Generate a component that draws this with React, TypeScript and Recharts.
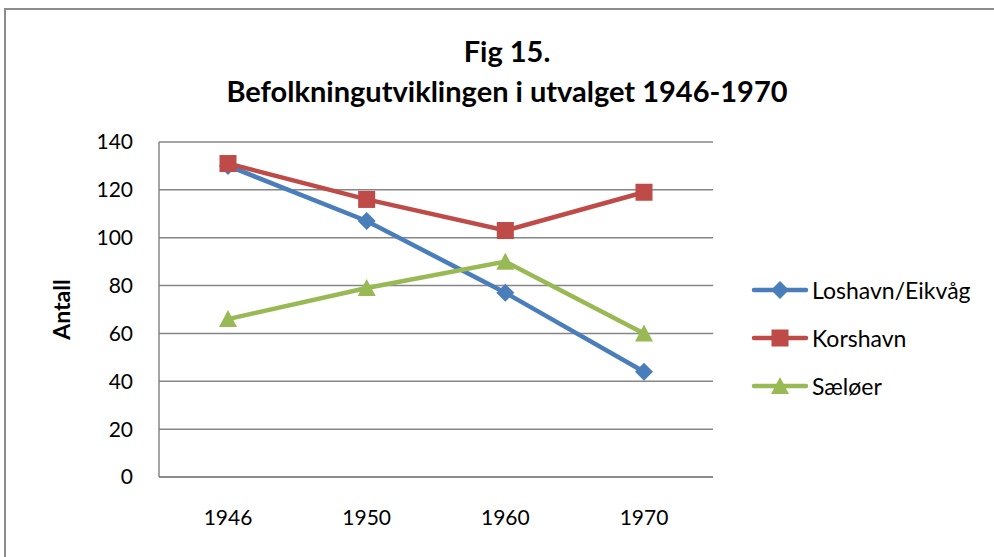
import React from 'react';
import { LineChart, Line, XAxis, YAxis, CartesianGrid } from 'recharts';

const years = ['1946', '1950', '1960', '1970'];
const loshavn = [130, 107, 77, 44];
const korshavn = [131, 116, 103, 119];
const saeloer = [66, 79, 90, 60];
const yTicks = [0, 20, 40, 60, 80, 100, 120, 140];

const seriesInfo = [
  { key: 'loshavn', name: 'Loshavn/Eikvåg', color: '#4A7EBB', shape: 'diamond' },
  { key: 'korshavn', name: 'Korshavn', color: '#BE4B48', shape: 'square' },
  { key: 'saeloer', name: 'Sæløer', color: '#98B954', shape: 'triangle' },
];

const data = years.map((year, i) => ({
  year,
  loshavn: loshavn[i],
  korshavn: korshavn[i],
  saeloer: saeloer[i],
}));

const FONT = 'Lato, "Open Sans", sans-serif';

// marker drawn at each point
const Marker = (shape: string, color: string) => (props: any) => {
  const { cx, cy, index } = props;
  if (cx == null || cy == null) return null;
  if (shape === 'diamond') {
    const s = 9;
    return (
      <path key={index} d={`M${cx},${cy - s} L${cx + s},${cy} L${cx},${cy + s} L${cx - s},${cy} Z`} fill={color} />
    );
  }
  if (shape === 'square') {
    const s = 8.5;
    return <rect key={index} x={cx - s} y={cy - s} width={s * 2} height={s * 2} fill={color} />;
  }
  const s = 9;
  return (
    <path key={index} d={`M${cx},${cy - s} L${cx + s},${cy + s - 1} L${cx - s},${cy + s - 1} Z`} fill={color} />
  );
};

const LegendIcon = ({ shape, color }: { shape: string; color: string }) => (
  <svg width={58} height={22} style={{ display: 'block' }}>
    <line x1={3} y1={11} x2={55} y2={11} stroke={color} strokeWidth={4.5} strokeLinecap="round" />
    {Marker(shape, color)({ cx: 29, cy: 11, index: 0 })}
  </svg>
);

const ChartLegend = () => (
  <div style={{ position: 'absolute', left: 751, top: 266, fontFamily: FONT, fontSize: 23, color: '#000' }}>
    {seriesInfo.map((s) => (
      <div key={s.key} style={{ display: 'flex', alignItems: 'center', height: 48 }}>
        <LegendIcon shape={s.shape} color={s.color} />
        <span style={{ marginLeft: 3 }}>{s.name}</span>
      </div>
    ))}
  </div>
);

export default function App() {
  return (
    <div style={{ position: 'relative', width: 994, height: 557, background: '#fff', overflow: 'hidden' }}>
      <style>{`body{margin:0}`}</style>
      <div
        style={{
          position: 'absolute',
          left: 4,
          top: 8,
          width: 1000,
          height: 600,
          border: '2px solid #8c8c8c',
          boxSizing: 'border-box',
        }}
      />
      <div
        style={{
          position: 'absolute',
          left: 20,
          top: 31,
          width: 974,
          textAlign: 'center',
          fontFamily: FONT,
          fontWeight: 'bold',
          fontSize: 29,
          lineHeight: '40px',
          color: '#000',
        }}
      >
        <div>Fig 15.</div>
        <div>Befolkningutviklingen i utvalget 1946-1970</div>
      </div>
      <div style={{ position: 'absolute', left: 0, top: 0 }}>
        <LineChart width={994} height={557} data={data} margin={{ top: 142, right: 281, bottom: 0, left: 0 }}>
          <CartesianGrid vertical={false} stroke="#868686" strokeWidth={1.5} />
          <XAxis
            dataKey="year"
            height={80}
            padding={{ left: 69, right: 69 }}
            axisLine={{ stroke: '#868686', strokeWidth: 1.5 }}
            tickLine={false}
            tickSize={0}
            tickMargin={33}
            tick={{ fill: '#000', fontSize: 21, fontFamily: FONT }}
          />
          <YAxis
            width={159}
            domain={[0, 140]}
            ticks={yTicks}
            interval={0}
            axisLine={{ stroke: '#868686', strokeWidth: 1.5 }}
            tickLine={false}
            tickSize={0}
            tickMargin={26}
            tick={{ fill: '#000', fontSize: 21, fontFamily: FONT }}
            label={{
              value: 'Antall',
              angle: -90,
              position: 'insideLeft',
              offset: 62,
              style: { fill: '#000', fontSize: 23, fontWeight: 'bold', fontFamily: FONT, textAnchor: 'middle' },
            }}
          />
          {seriesInfo.map((s) => (
            <Line
              key={s.key}
              dataKey={s.key}
              name={s.name}
              stroke={s.color}
              strokeWidth={4.5}
              dot={Marker(s.shape, s.color)}
              activeDot={false}
              isAnimationActive={false}
            />
          ))}
        </LineChart>
      </div>
      <ChartLegend />
    </div>
  );
}
